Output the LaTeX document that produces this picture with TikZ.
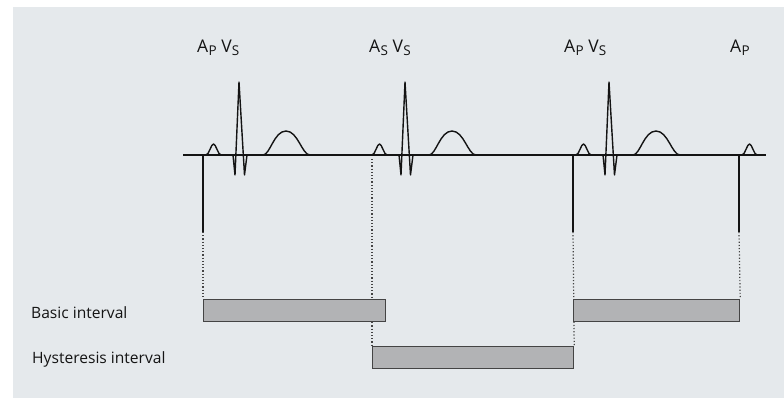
\documentclass[tikz,border=0pt]{standalone}
\usepackage{fontspec}
\setmainfont{Open Sans}
\usepackage{xcolor}
\definecolor{cPanel}{HTML}{E5E9EC}
\definecolor{cBar}{HTML}{B2B3B5}
\definecolor{cInk}{HTML}{141414}
\definecolor{cEdge}{HTML}{444444}
\usepackage{tikz}
\usetikzlibrary{positioning,backgrounds}
% event label: letter with a capital index set low
\newcommand{\evt}[2]{#1\kern0.3pt\raisebox{-0.34ex}{\fontsize{13.5}{14}\selectfont #2}}
\tikzset{
  trace-line/.style={draw=cInk,line width=1.4pt,line join=round},
  spike-line/.style={draw=cInk,line width=1.8pt},
  guide-line/.style={draw=cEdge,line width=1.2pt,dash pattern=on 1.2pt off 2pt},
  bar-box/.style={draw=cEdge,line width=1.2pt,fill=cBar,inner sep=0pt,
    minimum height=22pt,anchor=north west},
  label-top/.style={font=\fontsize{17.5}{18}\selectfont,text=cInk,
    anchor=base west,inner sep=0pt},
  label-side/.style={font=\fontsize{15.6}{17}\selectfont,text=cInk,
    anchor=west,inner sep=0pt},
  % P wave, origin where it leaves the baseline
  pics/pwave/.style={code={
    \draw[trace-line] (0,0) .. controls (3,0) and (5,-11) .. (7.5,-11)
      .. controls (10,-11) and (12,0) .. (15,0);
  }},
  % QRS and T wave, same origin as the P wave
  pics/complex/.style={code={
    \draw[trace-line] (27,0) -- (29,20) -- (33,-73) -- (38.5,20) -- (41,0)
      -- (57,0) .. controls (64,0) and (68,-24) .. (80,-24)
      .. controls (92,-24) and (96,0) .. (104,0);
  }},
  % pacing spike
  pics/pace/.style={code={
    \draw[spike-line] (0,0) -- (0,77);
    \coordinate (-tip) at (0,77);
  }},
}

\begin{document}
\begin{tikzpicture}[x=1pt,y=-1pt]
  \useasboundingbox (0,0) rectangle (784,410);
  \begin{scope}[on background layer]
    \fill[cPanel] (13,7) rectangle (784,398);
  \end{scope}

  \coordinate (trace-start) at (183,155);
  \coordinate (trace-end)   at (766,155);
  \coordinate (p2)          at (372,155);

  % intervals
  \node[bar-box,minimum width=182pt] (basic1) at (203,299) {};
  \node[bar-box,minimum width=201pt] (hyst)   at (372,346) {};
  \node[bar-box,minimum width=166pt] (basic2) at (573,299) {};

  % trace
  \draw[trace-line] (trace-start) -- (trace-end);
  \pic (spk1) at (203,155) {pace};
  \pic at (206,155) {pwave};
  \pic at (206,155) {complex};
  \pic at (p2) {pwave};
  \pic at (p2) {complex};
  \pic (spk3) at (573,155) {pace};
  \pic at (576,155) {pwave};
  \pic at (576,155) {complex};
  \pic (spk4) at (739,155) {pace};
  \pic at (742,155) {pwave};

  % guides, behind the bars
  \begin{scope}[on background layer]
    \draw[guide-line] (spk1-tip) -- (basic1.north west);
    \draw[guide-line,shorten <=4pt] (p2) -- (hyst.north west);
    \draw[guide-line] (spk3-tip) -- (hyst.north east);
    \draw[guide-line] (spk4-tip) -- (basic2.north east);
  \end{scope}

  % labels
  \node[label-top] (ev1) at (197,52) {\evt{A}{P} \evt{V}{S}};
  \node[label-top] (ev2) at (369,52) {\evt{A}{S} \evt{V}{S}};
  \node[label-top] (ev3) at (564,52) {\evt{A}{P} \evt{V}{S}};
  \node[label-top] (ev4) at (730,52) {\evt{A}{P}};
  \node[label-side] (lb-basic) at (31,313) {Basic interval};
  \node[label-side] (lb-hyst)  at (32,359) {Hysteresis interval};
\end{tikzpicture}
\end{document}
